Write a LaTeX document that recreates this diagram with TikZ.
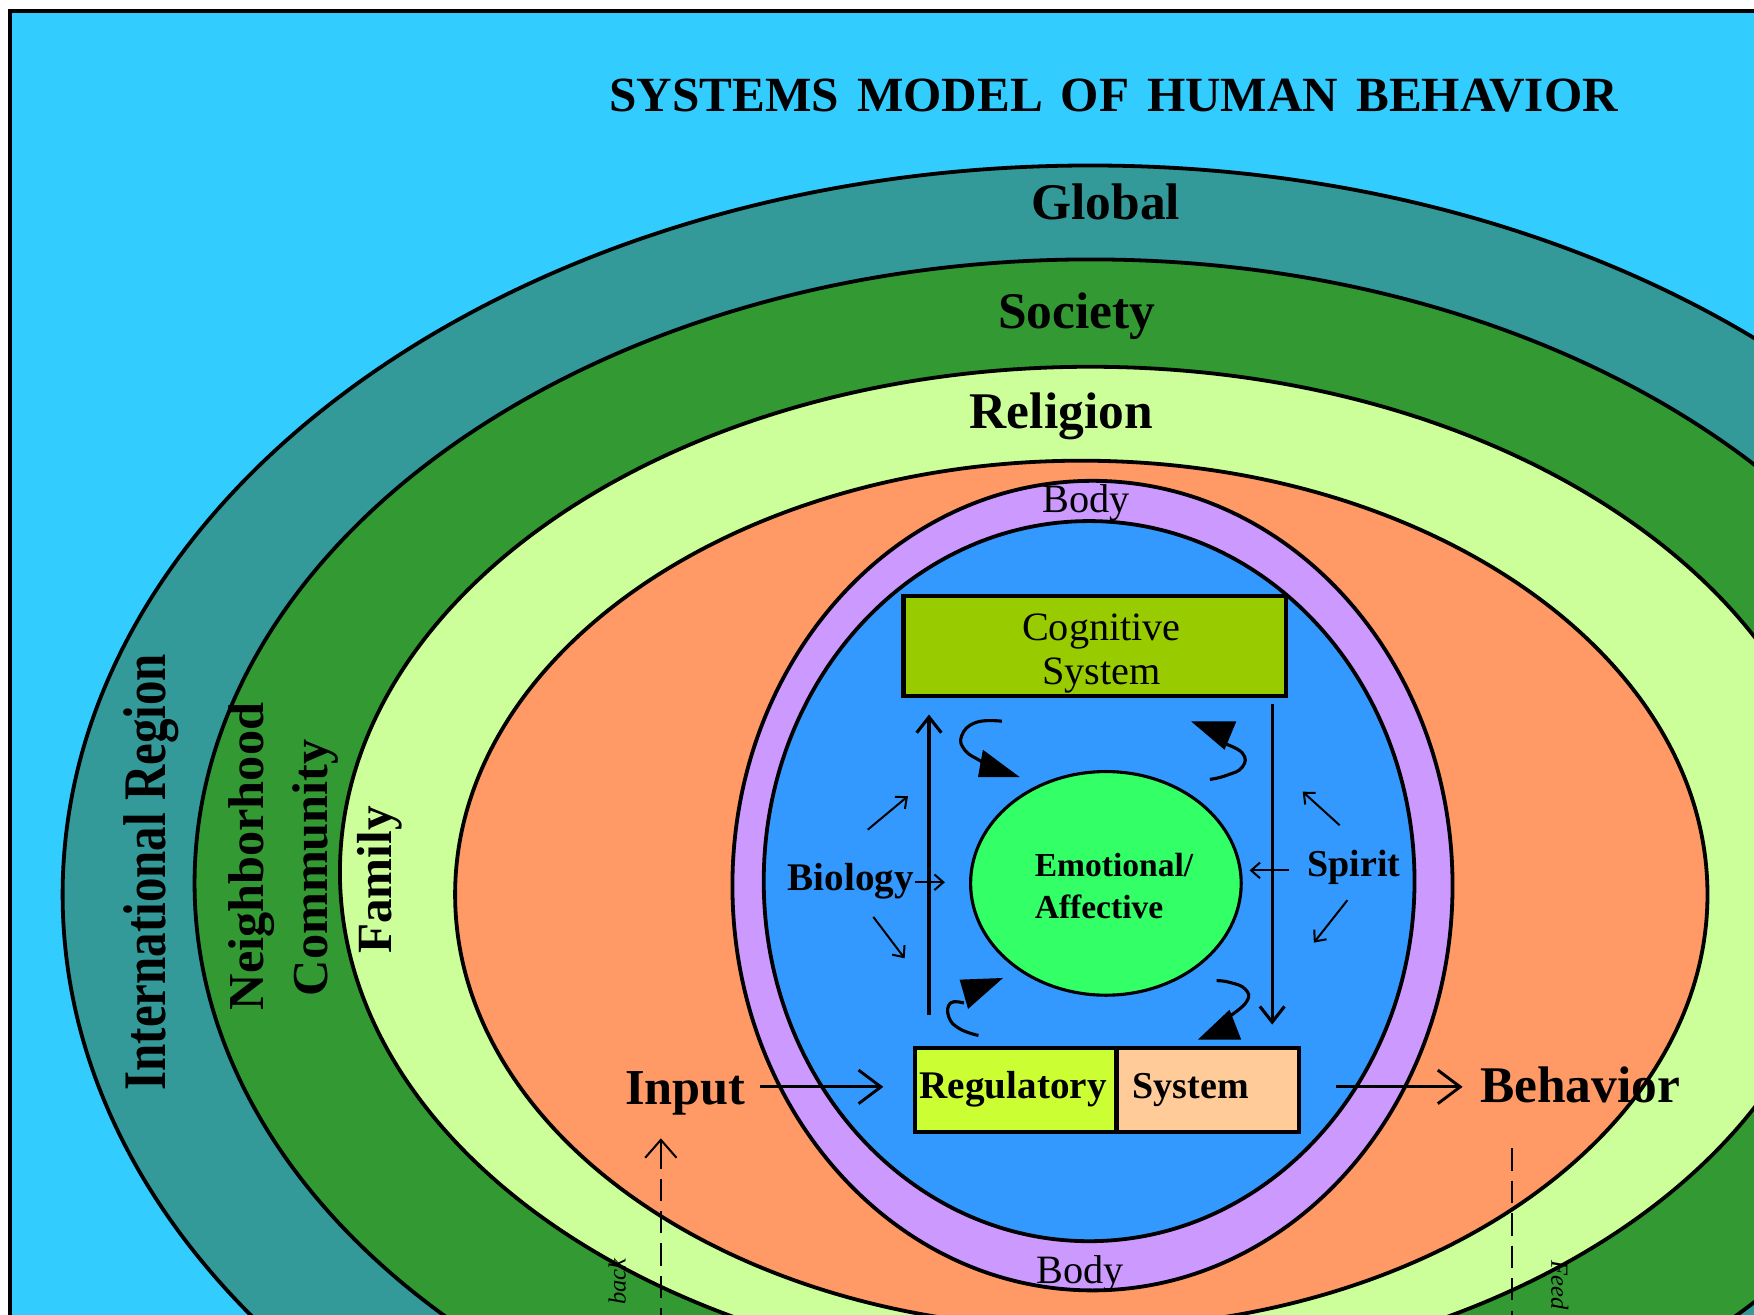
\documentclass[tikz,border=0pt]{standalone}
\usepackage{fontspec}
\usepackage{graphicx}
\setmainfont{Liberation Serif}
\usetikzlibrary{arrows.meta,shapes.geometric}
\definecolor{bgblue}{HTML}{33CCFF}
\definecolor{tealring}{HTML}{339999}
\definecolor{dgreen}{HTML}{339933}
\definecolor{lgreen}{HTML}{CCFF99}
\definecolor{orng}{HTML}{FF9966}
\definecolor{purp}{HTML}{CC99FF}
\definecolor{iblue}{HTML}{3399FF}
\definecolor{emogreen}{HTML}{33FF66}
\definecolor{cogcol}{HTML}{99CC00}
\definecolor{regcol}{HTML}{CCFF33}
\definecolor{syscol}{HTML}{FFCC99}
\begin{document}
\begin{tikzpicture}[x=0.5pt,y=-0.5pt,
  ring/.style={draw=black,line width=1.7pt},
  bigbold/.style={inner sep=0pt,anchor=base,font=\fontsize{23}{27}\selectfont\bfseries},
  midreg/.style={inner sep=0pt,anchor=base,font=\fontsize{18}{20}\selectfont},
  midbold/.style={inner sep=0pt,anchor=base,font=\fontsize{17.5}{20}\selectfont\bfseries},
  sidebold/.style={inner sep=0pt,rotate=90,font=\fontsize{22.5}{26}\selectfont\bfseries},
  boxnode/.style={draw=black,line width=1.8pt,inner sep=0pt},
  mainarrow/.style={line width=1.3pt,-{Straight Barb[length=10pt,width=15pt]}},
  vertarrow/.style={line width=1.4pt,-{Straight Barb[length=7pt,width=11pt]}},
  smallarrow/.style={line width=0.9pt,-{Straight Barb[length=4pt,width=7pt]}},
  curl/.style={line width=1.4pt},
  fbline/.style={line width=0.9pt,dash pattern=on 10pt off 4.5pt},
  fbtext/.style={inner sep=0pt,font=\fontsize{11}{13}\selectfont\itshape}
]
\useasboundingbox (0,0) rectangle (1568.6,1176);
\clip (0,0) rectangle (1568.6,1176);
\fill[white] (0,0) rectangle (1568.6,1176);
\filldraw[fill=bgblue,draw=black,line width=1.8pt] (9,10) rectangle (1620,1220);

% rings
\filldraw[ring,fill=tealring] (975,800) ellipse [x radius=919,y radius=652];
\filldraw[ring,fill=dgreen] (975,790) ellipse [x radius=801,y radius=558];
\filldraw[ring,fill=lgreen] (975,780) ellipse [x radius=671,y radius=452];
\filldraw[ring,fill=orng] (967,800) ellipse [x radius=560,y radius=388];
\filldraw[ring,fill=purp] (977,792) ellipse [x radius=322,y radius=362];
\filldraw[ring,fill=iblue] (974,788) ellipse [x radius=291,y radius=322];

% title and ring labels
\node[inner sep=0pt,anchor=base,font=\fontsize{22}{26}\selectfont\bfseries] (title) at (996,100)
  {SYSTEMS\hspace{8pt}MODEL\hspace{8pt}OF\hspace{8pt}HUMAN\hspace{8pt}BEHAVIOR};
\node[bigbold] (global) at (989,196) {Global};
\node[bigbold] (society) at (963,294) {Society};
\node[bigbold] (religion) at (949,383) {Religion};
\node[midreg] (bodytop) at (971,458) {Body};
\node[midreg] (bodybot) at (966,1148) {Body};

\node[inner sep=0pt,rotate=90] (intl) at (135,780)
  {\scalebox{0.81}[1]{\fontsize{27}{32}\selectfont\bfseries International Region}};
\node[sidebold] (neigh) at (225,766) {Neighborhood};
\node[sidebold] (comm) at (282,776) {Community};
\node[sidebold,font=\fontsize{22}{26}\selectfont\bfseries] (family) at (340,787) {Family};

% inner system
\node[boxnode,fill=cogcol,minimum width=171pt,minimum height=44.5pt] (cogbox) at (979,577.5) {};
\node[midreg] (cogA) at (985,573) {Cognitive};
\node[midreg] (cogB) at (985,612) {System};

\node[draw=black,line width=1.4pt,fill=emogreen,ellipse,minimum width=121pt,minimum height=100pt,inner sep=0pt] (emo) at (989,790) {};
\node[inner sep=0pt,anchor=base west,font=\fontsize{15}{18}\selectfont\bfseries] (emoA) at (925,784) {Emotional/};
\node[inner sep=0pt,anchor=base west,font=\fontsize{15}{18}\selectfont\bfseries] (emoB) at (925,821) {Affective};

\node[boxnode,fill=regcol,minimum width=90pt,minimum height=37.5pt] (regbox) at (908,974.5) {};
\node[boxnode,fill=syscol,minimum width=81.5pt,minimum height=37.5pt] (sysbox) at (1080.5,974.5) {};
\node[midbold] (regtxt) at (906,982) {Regulatory};
\node[midbold,font=\fontsize{17}{20}\selectfont\bfseries] (systxt) at (1065,982) {System};

\node[midbold] (biology) at (761,796) {Biology};
\node[midbold,font=\fontsize{17}{20}\selectfont\bfseries] (spirit) at (1211,784) {Spirit};

\node[bigbold,font=\fontsize{22.5}{26}\selectfont\bfseries] (input) at (613,988) {Input};
\node[bigbold] (behav) at (1413,986) {Behavior};

% main arrows
\coordinate (inS) at (680,972);
\coordinate (inE) at (790,972);
\draw[mainarrow] (inS) -- (inE);
\coordinate (outS) at (1195,972);
\coordinate (outE) at (1308,972);
\draw[mainarrow] (outS) -- (outE);

\coordinate (upS) at (830.8,907.4);
\coordinate (upE) at (830.8,639);
\draw[vertarrow] (upS) -- (upE);
\coordinate (dnS) at (1137.7,630);
\coordinate (dnE) at (1137.7,916.3);
\draw[vertarrow] (dnS) -- (dnE);

% biology arrows
\coordinate (b1s) at (776,742); \coordinate (b1e) at (812,712);
\draw[smallarrow] (b1s) -- (b1e);
\coordinate (b2s) at (818,789); \coordinate (b2e) at (845,789);
\draw[smallarrow] (b2s) -- (b2e);
\coordinate (b3s) at (781,820); \coordinate (b3e) at (809,857);
\draw[smallarrow] (b3s) -- (b3e);
% spirit arrows
\coordinate (s1s) at (1198,738); \coordinate (s1e) at (1165,708);
\draw[smallarrow] (s1s) -- (s1e);
\coordinate (s2s) at (1153,778.4); \coordinate (s2e) at (1117.5,778.4);
\draw[smallarrow] (s2s) -- (s2e);
\coordinate (s3s) at (1205,805); \coordinate (s3e) at (1175,843);
\draw[smallarrow] (s3s) -- (s3e);

% curly arrows
\draw[curl] plot[smooth,tension=0.8] coordinates {(896,645) (873,646) (860,658) (863,671) (876,680) (882,684)};
\fill (879,670.5) -- (912,695) -- (874.6,695) -- cycle;
\draw[curl] plot[smooth,tension=0.8] coordinates {(1093.6,664.5) (1111,673.4) (1111,686) (1096.6,693.5) (1082,697)};
\fill (1065.3,645.2) -- (1105.6,645.2) -- (1095.1,670.5) -- cycle;
\draw[curl] plot[smooth,tension=0.8] coordinates {(862,897) (850,897) (848.5,909.5) (858.2,920) (875,926)};
\fill (858.2,876.1) -- (897,874.6) -- (865.7,902.3) -- cycle;
\draw[curl] plot[smooth,tension=0.8] coordinates {(1099.6,908.9) (1115,895.5) (1113.5,884.5) (1099.6,878.5) (1088,877)};
\fill (1071.3,929.7) -- (1110,929.7) -- (1099.6,903) -- cycle;

% feedback lines
\coordinate (fbL1) at (591,1190);
\coordinate (fbL2) at (591,1018);
\draw[fbline] (fbL1) -- (fbL2);
\draw[line width=0.9pt,-{Straight Barb[length=8pt,width=14pt]}] (591,1040) -- (fbL2);
\coordinate (fbR1) at (1352,1027);
\coordinate (fbR2) at (1352,1190);
\draw[fbline] (fbR1) -- (fbR2);
\node[fbtext,rotate=90,anchor=east] (fbtL) at (552,1125) {back};
\node[fbtext,rotate=-90,anchor=west] (fbtR) at (1395,1127) {Feed};
\end{tikzpicture}
\end{document}
